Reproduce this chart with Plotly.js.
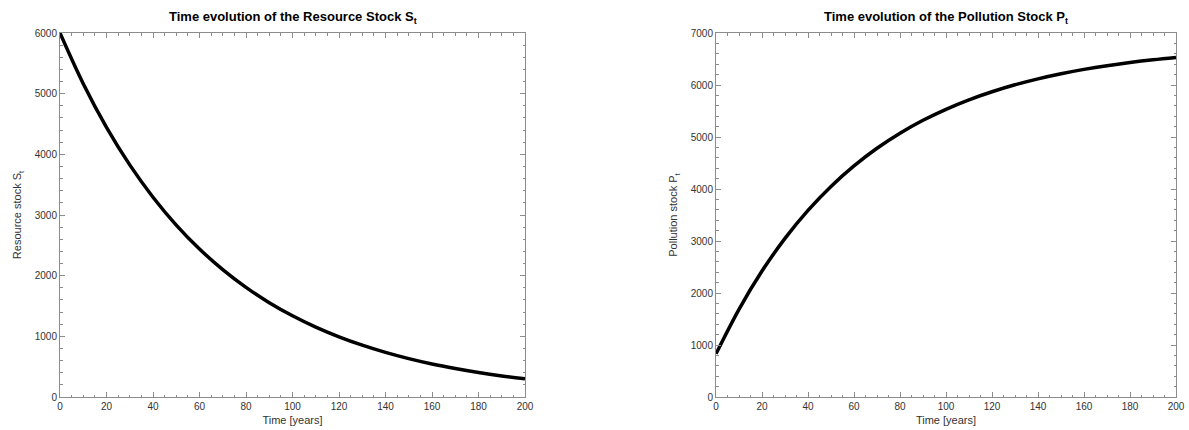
<!DOCTYPE html>
<html>
<head>
<meta charset="utf-8">
<script src="https://cdn.plot.ly/plotly-3.0.1.min.js"></script>
<style>html,body{margin:0;padding:0;background:#fff;}#chart{width:1189px;height:430px;}</style>
</head>
<body>
<div id="chart"></div>
<script>
// Time axis (years)
const years = [0,10,20,30,40,50,60,70,80,90,100,110,120,130,140,150,160,170,180,190,200];
// Resource stock S_t
const resourceStock = [6000,5164,4445,3826,3293,2834,2439,2100,1807,1555,1339,1152,992,854,735,632,544,469,403,347,299];
// Pollution stock P_t
const pollutionStock = [830,1687,2422,3050,3589,4050,4444,4783,5072,5321,5533,5715,5870,6004,6118,6216,6300,6372,6433,6486,6531];

const leftTitle = 'Time evolution of the Resource Stock S<sub>t</sub>';
const rightTitle = 'Time evolution of the Pollution Stock P<sub>t</sub>';
const xLabel = 'Time [years]';
const leftYLabel = 'Resource stock S<sub>t</sub>';
const rightYLabel = 'Pollution stock P<sub>t</sub>';

const FONT = 'Liberation Sans, Arial, Helvetica, sans-serif';
const AX = '#8c8c8c';
const TXT = '#333333';

function xaxisDef(domain, anchor) {
  return {
    domain: domain, anchor: anchor, range: [0, 200], dtick: 20, tick0: 0,
    showline: true, linecolor: AX, linewidth: 1, mirror: 'allticks',
    ticks: 'inside', ticklen: 5, tickcolor: AX, tickwidth: 1,
    minor: {dtick: 5, tick0: 0, ticks: 'inside', ticklen: 2.5, tickcolor: AX, tickwidth: 1},
    showgrid: false, zeroline: false,
    tickfont: {family: FONT, size: 10, color: TXT},
    title: {text: xLabel, font: {family: FONT, size: 11, color: TXT}, standoff: 5}
  };
}
function yaxisDef(domain, anchor, top, ylabel) {
  return {
    domain: domain, anchor: anchor, range: [0, top], dtick: 1000, tick0: 0,
    showline: true, linecolor: AX, linewidth: 1, mirror: 'allticks',
    ticks: 'inside', ticklen: 5, tickcolor: AX, tickwidth: 1,
    minor: {dtick: 200, tick0: 0, ticks: 'inside', ticklen: 2.5, tickcolor: AX, tickwidth: 1},
    showgrid: false, zeroline: false,
    tickfont: {family: FONT, size: 10, color: TXT},
    title: {text: ylabel, font: {family: FONT, size: 11, color: TXT}, standoff: 10}
  };
}

const yDom = [1 - 397/430, 1 - 33/430];
const data = [
  {x: years, y: resourceStock, type: 'scatter', mode: 'lines', line: {color: '#000', width: 3.5, shape: 'spline'}, xaxis: 'x', yaxis: 'y', hoverinfo: 'skip'},
  {x: years, y: pollutionStock, type: 'scatter', mode: 'lines', line: {color: '#000', width: 3.5, shape: 'spline'}, xaxis: 'x2', yaxis: 'y2', hoverinfo: 'skip'}
];

const layout = {
  width: 1189, height: 430,
  margin: {l: 0, r: 0, t: 0, b: 0},
  paper_bgcolor: '#fff', plot_bgcolor: '#fff',
  showlegend: false,
  xaxis: xaxisDef([60/1189, 525/1189], 'y'),
  yaxis: yaxisDef(yDom, 'x', 6000, leftYLabel),
  xaxis2: xaxisDef([716/1189, 1176/1189], 'y2'),
  yaxis2: yaxisDef(yDom, 'x2', 7000, rightYLabel),
  annotations: [
    {text: '<b>' + leftTitle + '</b>', xref: 'paper', yref: 'paper', x: (60+525)/2/1189, y: 1 - 17/430, xanchor: 'center', yanchor: 'middle', showarrow: false, font: {family: FONT, size: 13, color: '#000'}},
    {text: '<b>' + rightTitle + '</b>', xref: 'paper', yref: 'paper', x: (716+1176)/2/1189, y: 1 - 17/430, xanchor: 'center', yanchor: 'middle', showarrow: false, font: {family: FONT, size: 13, color: '#000'}}
  ]
};

Plotly.newPlot('chart', data, layout, {displayModeBar: false, staticPlot: true});
</script>
</body>
</html>
